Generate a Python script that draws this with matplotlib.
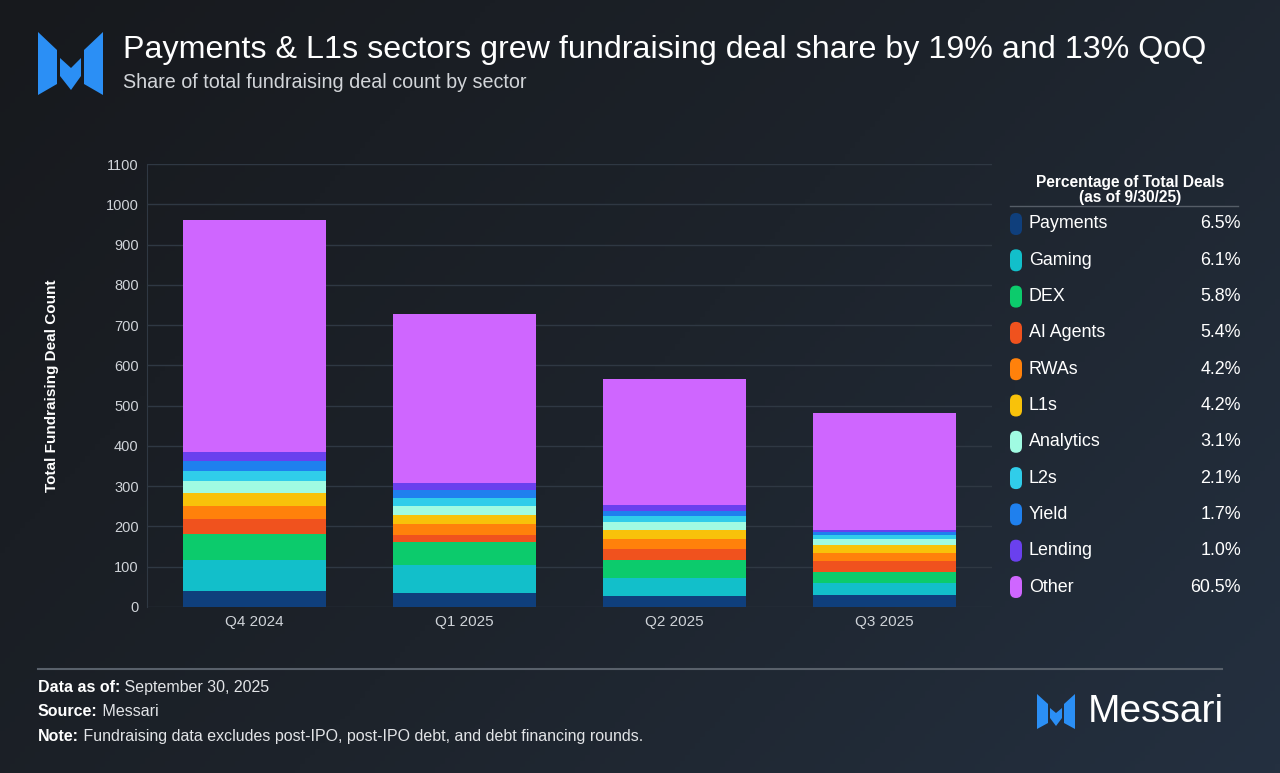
import numpy as np
import matplotlib
matplotlib.use("Agg")
import matplotlib.pyplot as plt
from matplotlib.patches import FancyBboxPatch, Polygon
from matplotlib.colors import LinearSegmentedColormap

plt.rcParams['font.family'] = ['Liberation Sans', 'DejaVu Sans']

quarters = ["Q4 2024", "Q1 2025", "Q2 2025", "Q3 2025"]
sectors = ["Payments", "Gaming", "DEX", "AI Agents", "RWAs", "L1s",
           "Analytics", "L2s", "Yield", "Lending", "Other"]
colors = ["#0f3f7c", "#12bfca", "#0ccb6c", "#f0521e", "#ff810b", "#f8c20a",
          "#a0fbe2", "#30cdea", "#1f80ee", "#6a40ee", "#cf66ff"]

# deal counts per sector, bottom to top of each bar
payments = [40, 36, 27, 31]
gaming = [77, 69, 46, 29]
dex = [64, 56, 43, 28]
ai_agents = [37, 18, 27, 26]
rwas = [33, 27, 27, 20]
l1s = [31, 23, 21, 20]
analytics = [32, 22, 21, 15]
l2s = [24, 19, 14, 10]
yield_ = [25, 21, 13, 8]
lending = [23, 16, 14, 5]
other = [576, 420, 312, 290]
series = [payments, gaming, dex, ai_agents, rwas, l1s,
          analytics, l2s, yield_, lending, other]

# legend values (share of deals as of 9/30/25)
share_q3 = ["6.5%", "6.1%", "5.8%", "5.4%", "4.2%", "4.2%",
            "3.1%", "2.1%", "1.7%", "1.0%", "60.5%"]

W, H = 1280, 773
fig = plt.figure(figsize=(W / 100, H / 100), dpi=100)

# background gradient
bg = fig.add_axes([0, 0, 1, 1], zorder=-5)
gx, gy = np.meshgrid(np.linspace(0, 1, 256), np.linspace(0, 1, 256))
grad = 0.65 * gx + 0.35 * gy
cmap = LinearSegmentedColormap.from_list("bg", ["#17191d", "#1d232b", "#243040"])
bg.imshow(grad, cmap=cmap, aspect="auto", extent=[0, 1, 0, 1], origin="upper")
bg.axis("off")

# main chart
ax = fig.add_axes([147 / W, 1 - 607 / H, 845 / W, 443 / H])
ax.set_facecolor("none")
x = np.arange(len(quarters))
bottom = np.zeros(len(quarters))
for vals, col in zip(series, colors):
    ax.bar(x, vals, bottom=bottom, width=0.68, color=col, linewidth=0, zorder=3)
    bottom += np.array(vals)

ax.set_xlim(-0.51, 3.51)
ax.set_ylim(0, 1100)
ax.set_yticks(np.arange(0, 1101, 100))
ax.set_xticks(x)
ax.set_xticklabels(quarters)
ax.grid(axis="y", color="#2f3843", linewidth=1, zorder=0)
for s in ["top", "right", "bottom"]:
    ax.spines[s].set_visible(False)
ax.spines["left"].set_color("#2f3843")
ax.tick_params(axis="both", length=0, colors="#cfd3d8")
ax.tick_params(axis="y", pad=6, labelsize=10.5)
ax.tick_params(axis="x", pad=6, labelsize=11)
ax.set_ylabel("Total Fundraising Deal Count", color="white", fontsize=11,
              fontweight="bold", labelpad=34)

# overlay in pixel coordinates for titles, legend, footer
ov = fig.add_axes([0, 0, 1, 1], zorder=5)
ov.set_xlim(0, W)
ov.set_ylim(H, 0)
ov.axis("off")

# logo
logo_col = "#2b8ff5"
for pts in [
    [(38, 32), (57, 50), (57, 84), (38, 95)],
    [(60, 58), (71, 68), (81, 58), (81, 76), (71, 90), (60, 76)],
    [(84, 50), (103, 32), (103, 95), (84, 84)],
]:
    ov.add_patch(Polygon(pts, closed=True, color=logo_col, lw=0))

ov.text(123, 50, "Payments & L1s sectors grew fundraising deal share by 19% and 13% QoQ",
        color="white", fontsize=23.2, va="center", ha="left")
ov.text(123, 83, "Share of total fundraising deal count by sector",
        color="#d2d5d9", fontsize=14.2, va="center", ha="left")

# legend
ov.text(1130, 190, "Percentage of Total Deals\n(as of 9/30/25)", color="white",
        fontsize=11.2, fontweight="bold", ha="center", va="center", linespacing=0.95)
ov.plot([1010, 1238], [206, 206], color="#555d67", lw=1)
for i, (name, col, val) in enumerate(zip(sectors, colors, share_q3)):
    yy = 224 + i * 36.3
    ov.add_patch(FancyBboxPatch((1010, yy - 11), 12, 22,
                                boxstyle="round,pad=0,rounding_size=6",
                                color=col, lw=0))
    ov.text(1029, yy, name, color="white", fontsize=12.9, va="center", ha="left")
    ov.text(1241, yy, val, color="white", fontsize=12.9, va="center", ha="right")

# footer
ov.plot([38, 1222], [669, 669], color="#59616b", lw=1.5)
foot = [("Data as of:", " September 30, 2025", 692),
        ("Source:", " Messari", 716),
        ("Note:", " Fundraising data excludes post-IPO, post-IPO debt, and debt financing rounds.", 741)]
for lab, rest, yy in foot:
    t = ov.text(38, yy, lab, color="white", fontsize=11.5, fontweight="bold",
                va="baseline", ha="left")
    fig.canvas.draw()
    bb = t.get_window_extent()
    ov.text(bb.x1, yy, rest, color="#e2e4e7", fontsize=11.5, va="baseline", ha="left")

# footer logo + wordmark
for pts in [
    [(1037, 694), (1048, 704), (1048, 723), (1037, 729)],
    [(1050, 708), (1056, 713), (1062, 708), (1062, 718), (1056, 726), (1050, 718)],
    [(1064, 704), (1075, 694), (1075, 729), (1064, 723)],
]:
    ov.add_patch(Polygon(pts, closed=True, color=logo_col, lw=0))
ov.text(1088, 712, "Messari", color="white", fontsize=28, va="center", ha="left")

fig.savefig("out.png", dpi=100, facecolor=fig.get_facecolor())
